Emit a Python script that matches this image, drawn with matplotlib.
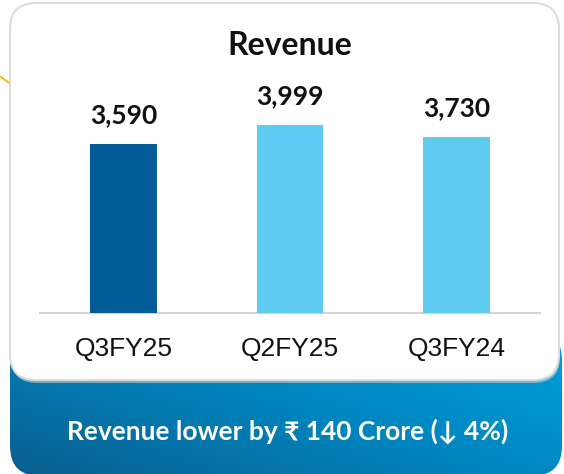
import matplotlib
matplotlib.use("Agg")
import matplotlib.pyplot as plt
import numpy as np
from matplotlib.patches import FancyBboxPatch, PathPatch
from matplotlib.path import Path
from matplotlib.colors import LinearSegmentedColormap

plt.rcParams['font.family'] = ['Lato', 'DejaVu Sans']

# ---- data ----
categories = ["Q3FY25", "Q2FY25", "Q3FY24"]
revenue = [3590, 3999, 3730]
value_labels = ["3,590", "3,999", "3,730"]
title = "Revenue"
footer = "Revenue lower by \u20b9 140 Crore (\u2193 4%)"

bar_colors = ["#005b96", "#5fcbf3", "#5fcbf3"]

W, H = 564, 474
fig = plt.figure(figsize=(W / 100, H / 100), dpi=100)
fig.patch.set_facecolor("white")

# ---- background layer in pixel coordinates ----
bg = fig.add_axes([0, 0, 1, 1], zorder=0)
bg.set_xlim(0, W)
bg.set_ylim(H, 0)
bg.axis("off")

# blue gradient box (behind card)
blue = FancyBboxPatch((10, 330), 552, 146, boxstyle="round,pad=0,rounding_size=30",
                      facecolor="none", edgecolor="none", zorder=1)
bg.add_patch(blue)
gx = np.linspace(0, 1, 200)
gy = np.linspace(0, 1, 200)
GX, GY = np.meshgrid(gx, gy)
grad = (GX * 0.75 + (1 - GY) * 0.6)
cmap = LinearSegmentedColormap.from_list("g", ["#0a5e8e", "#0085be", "#00a2de"])
im = bg.imshow(grad, extent=(10, 562, 476, 330), cmap=cmap, aspect="auto", zorder=1,
               origin="upper")
im.set_clip_path(blue)

# card shadow
shadow = FancyBboxPatch((11, 5), 549, 378, boxstyle="round,pad=0,rounding_size=26",
                        facecolor="#c9c9c9", edgecolor="none", zorder=2, alpha=0.6)
bg.add_patch(shadow)
# white card
card = FancyBboxPatch((10, 3), 549, 377, boxstyle="round,pad=0,rounding_size=26",
                      facecolor="white", edgecolor="#dcdcdc", linewidth=1.5, zorder=3)
bg.add_patch(card)

# yellow decorative arc at left edge
arc = Path([(0, 76), (6, 81), (11, 84)], [Path.MOVETO, Path.CURVE3, Path.CURVE3])
bg.add_patch(PathPatch(arc, facecolor="none", edgecolor="#f6b900", linewidth=1.3, zorder=2))

# title
bg.text(290, 45, title, ha="center", va="center", fontsize=23, fontweight="bold",
        color="#111111", zorder=5)

# footer text
bg.text(288, 431, footer, ha="center", va="center", fontsize=19, fontweight="bold",
        color="white", zorder=5)

# ---- chart ----
ax = fig.add_axes([40 / W, (H - 313) / H, 500 / W, 212 / H], zorder=2)
ax.set_facecolor("none")
x = np.arange(len(categories))
bars = ax.bar(x, revenue, width=0.4, color=bar_colors, zorder=3)
ax.set_xlim(-0.5, len(categories) - 0.5)
ax.set_ylim(0, 4500)
for rect, lab in zip(bars, value_labels):
    ax.annotate(lab, (rect.get_x() + rect.get_width() / 2, rect.get_height()),
                xytext=(0, 12), textcoords="offset points", ha="center", va="bottom",
                fontsize=19, fontweight="bold", color="#111111")
ax.set_xticks(x)
ax.set_xticklabels(categories, fontsize=19, color="#111111",
                   family=["Liberation Sans", "DejaVu Sans"])
ax.tick_params(axis="x", length=0, pad=17)
ax.set_yticks([])
for s in ["top", "right", "left"]:
    ax.spines[s].set_visible(False)
ax.spines["bottom"].set_color("#d4d4d4")
ax.spines["bottom"].set_linewidth(1.5)

fig.savefig("out.png", dpi=100, facecolor="white")
